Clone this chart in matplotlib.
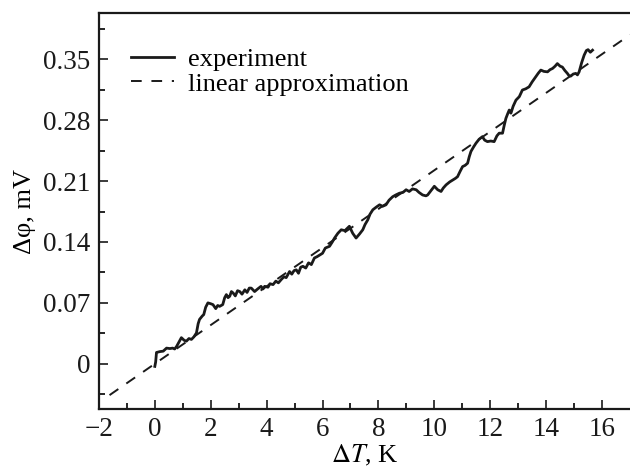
import matplotlib
matplotlib.use("Agg")
import matplotlib.pyplot as plt
import numpy as np

dT = [0.00, 0.03, 0.06, 0.18, 0.30, 0.42, 0.54, 0.64, 0.71, 0.78, 0.88, 0.95,
      1.05, 1.13, 1.22, 1.31, 1.40, 1.49, 1.55, 1.60, 1.70, 1.75, 1.82, 1.90,
      2.00, 2.08, 2.18, 2.25, 2.32, 2.43, 2.50, 2.56, 2.62, 2.68, 2.74, 2.80,
      2.88, 2.96, 3.04, 3.12, 3.22, 3.30, 3.38, 3.45, 3.57, 3.68, 3.80, 3.87,
      3.93, 4.05, 4.12, 4.23, 4.33, 4.42, 4.52, 4.62, 4.70, 4.82, 4.90, 4.98,
      5.06, 5.14, 5.22, 5.30, 5.40, 5.50, 5.60, 5.71, 5.80, 5.90, 6.00, 6.10,
      6.25, 6.35, 6.43, 6.55, 6.67, 6.80, 6.96, 7.08, 7.20, 7.32, 7.44, 7.52,
      7.62, 7.70, 7.80, 7.92, 8.04, 8.15, 8.27, 8.38, 8.51, 8.62, 8.75, 8.88,
      8.99, 9.10, 9.22, 9.35, 9.45, 9.58, 9.70, 9.76, 9.88, 10.00, 10.12, 10.24,
      10.32, 10.42, 10.55, 10.65, 10.75, 10.83, 10.92, 11.01, 11.10, 11.19, 11.25, 11.31,
      11.40, 11.49, 11.60, 11.72, 11.80, 11.90, 12.02, 12.14, 12.24, 12.32, 12.44, 12.50,
      12.56, 12.62, 12.68, 12.74, 12.82, 12.92, 13.04, 13.15, 13.27, 13.39, 13.50, 13.63,
      13.72, 13.81, 13.92, 14.05, 14.14, 14.23, 14.32, 14.40, 14.50, 14.58, 14.67, 14.76,
      14.82, 14.88, 14.97, 15.06, 15.12, 15.18, 15.27, 15.36, 15.44, 15.50, 15.58, 15.66]
dphi = [-0.003, 0.002, 0.013, 0.014, 0.0145, 0.018, 0.0175, 0.018, 0.017, 0.020, 0.026, 0.030,
        0.027, 0.026, 0.029, 0.028, 0.031, 0.0355, 0.046, 0.051, 0.055, 0.0565, 0.065, 0.070,
        0.069, 0.068, 0.0634, 0.067, 0.066, 0.068, 0.076, 0.0795, 0.076, 0.0776, 0.083, 0.0814,
        0.078, 0.084, 0.083, 0.080, 0.085, 0.082, 0.087, 0.087, 0.083, 0.086, 0.089, 0.086,
        0.089, 0.088, 0.092, 0.091, 0.095, 0.093, 0.0967, 0.100, 0.099, 0.106, 0.103, 0.107,
        0.108, 0.104, 0.111, 0.112, 0.110, 0.116, 0.114, 0.1216, 0.123, 0.125, 0.127, 0.133,
        0.135, 0.140, 0.1445, 0.150, 0.154, 0.153, 0.158, 0.150, 0.1445, 0.149, 0.154, 0.160,
        0.1655, 0.172, 0.177, 0.180, 0.1827, 0.181, 0.1827, 0.188, 0.192, 0.194, 0.196, 0.197,
        0.200, 0.198, 0.201, 0.200, 0.197, 0.194, 0.193, 0.194, 0.199, 0.204, 0.200, 0.198,
        0.202, 0.2056, 0.209, 0.211, 0.213, 0.215, 0.221, 0.2266, 0.228, 0.2305, 0.238, 0.244,
        0.249, 0.2535, 0.258, 0.261, 0.257, 0.2553, 0.256, 0.2553, 0.262, 0.265, 0.265, 0.274,
        0.282, 0.287, 0.2916, 0.288, 0.296, 0.303, 0.307, 0.3146, 0.316, 0.3183, 0.324, 0.3298,
        0.334, 0.3375, 0.336, 0.3355, 0.338, 0.3394, 0.342, 0.345, 0.342, 0.341, 0.337, 0.3337,
        0.331, 0.3306, 0.333, 0.3337, 0.332, 0.3355, 0.346, 0.3547, 0.360, 0.361, 0.358, 0.3604]

# linear approximation
slope = 0.02224
intercept = 0.0
fit_range = [-1.62, 17.0]

xticks = [-2, 0, 2, 4, 6, 8, 10, 12, 14, 16]
yticks = [0, 0.07, 0.14, 0.21, 0.28, 0.35]
ylabels = ["0", "0.07", "0.14", "0.21", "0.28", "0.35"]

plt.rcParams['font.family'] = ['Liberation Serif', 'DejaVu Serif']
plt.rcParams['mathtext.fontset'] = 'stix'

fig = plt.figure(figsize=(6.3, 4.68), dpi=100)
ax = fig.add_axes([0.157, 0.126, 0.843, 0.846])

ax.plot(dT, dphi, color='#1a1a1a', lw=2.0, label='experiment')
xf = np.array(fit_range)
ax.plot(xf, slope * xf + intercept, color='#1a1a1a', lw=1.4,
        dashes=(5.5, 5), label='linear approximation')

ax.set_xlim(-2, 17)
ax.set_ylim(-0.052, 0.403)
ax.set_xticks(xticks)
ax.set_xticks(np.arange(-1, 17, 2), minor=True)
ax.set_yticks(yticks)
ax.set_yticklabels(ylabels)
ax.set_yticks(np.arange(-0.035, 0.40, 0.07), minor=True)

ax.spines['right'].set_visible(False)
for s in ['left', 'bottom', 'top']:
    ax.spines[s].set_linewidth(1.6)
    ax.spines[s].set_color('#1a1a1a')

ax.tick_params(which='major', direction='in', length=6.5, width=1.2, labelsize=19.5, pad=6, colors='#1a1a1a')
ax.tick_params(which='minor', direction='in', length=4.2, width=1.2)
ax.tick_params(top=False, right=False)

ax.set_xlabel(r'$\Delta$$\mathit{T}$, K', fontsize=19, labelpad=0.5)
ax.set_ylabel('Δφ, mV', fontsize=19, labelpad=5)

ax.legend(loc='upper left', bbox_to_anchor=(0.025, 0.96), frameon=False, fontsize=19,
          handlelength=1.63, handletextpad=0.53, labelspacing=0.05, borderpad=0.2)

fig.savefig('out.png', dpi=100)
